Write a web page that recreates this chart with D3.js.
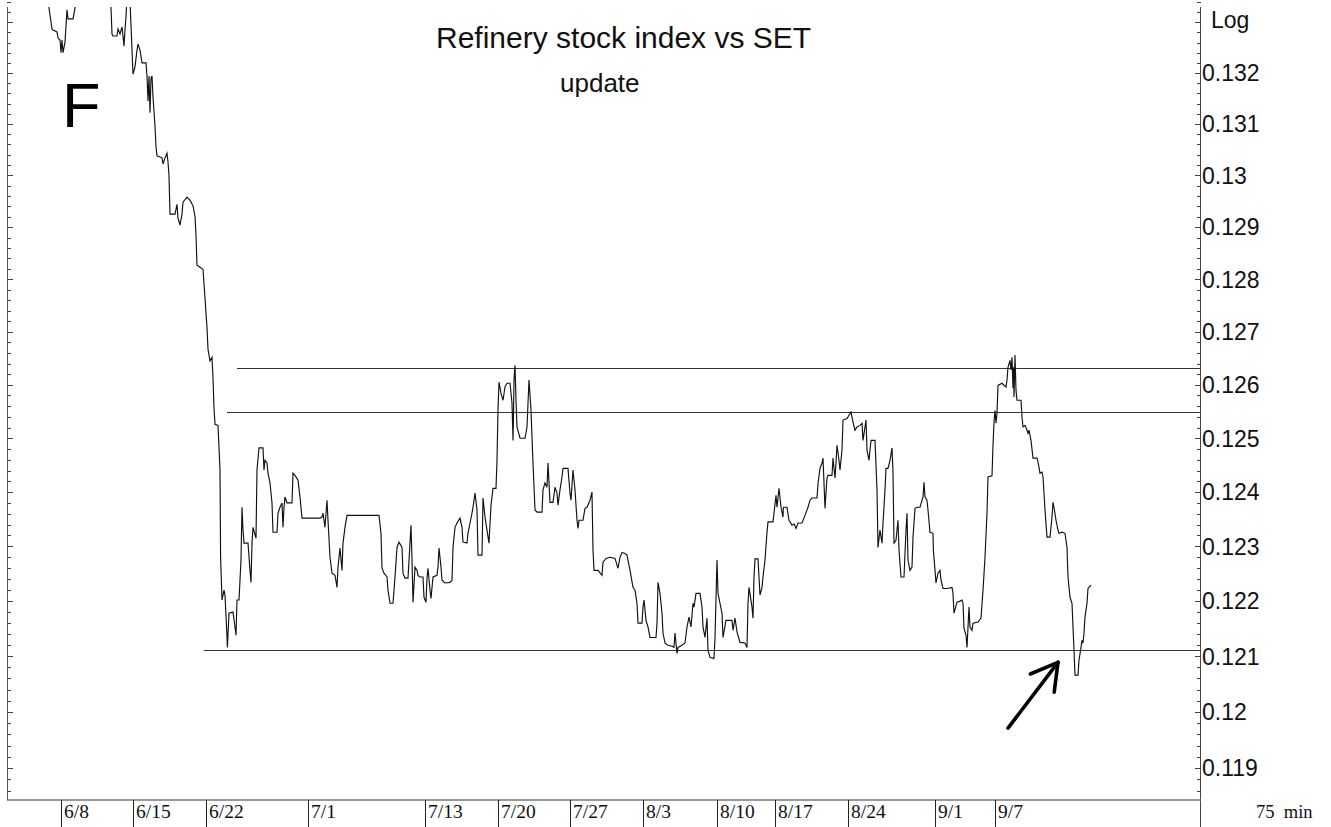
<!DOCTYPE html>
<html><head><meta charset="utf-8">
<script src="https://cdn.jsdelivr.net/npm/d3@7"></script>
<style>html,body{margin:0;padding:0;background:#fff;overflow:hidden}svg{display:block}</style>
</head><body>
<svg id="c" width="1331" height="827"></svg>
<script>
// ---- data (bar index, price ratio) ----
const series = [[9.5,0.1338],[10.5,0.13329],[11.25,0.13287],[11.5,0.13285],[12.5,0.13281],[12.75,0.13269],[13.25,0.13265],[13.5,0.13240],[13.75,0.13265],[14,0.13240],[14.5,0.13261],[15,0.13325],[15.25,0.13307],[16.5,0.13307],[17,0.13329],[18,0.1339],[23,0.1340],[25.5,0.1338],[26,0.13329],[26.25,0.13277],[26.5,0.13273],[27.5,0.13273],[27.75,0.13287],[28.25,0.13277],[28.75,0.13291],[29,0.13273],[29.25,0.13253],[29.5,0.13287],[29.75,0.13311],[30.1,0.1337],[30.6,0.1337],[31,0.13295],[31.25,0.13245],[31.5,0.13198],[32,0.13212],[32.5,0.13245],[32.75,0.13257],[33.25,0.13245],[33.75,0.13220],[34.75,0.13220],[35,0.13194],[35.25,0.13145],[35.5,0.13194],[35.75,0.13122],[36,0.13190],[36.25,0.13194],[36.5,0.13153],[37,0.13096],[37.25,0.13055],[37.5,0.13038],[38.75,0.13034],[39,0.13022],[39.5,0.13034],[40,0.13043],[40.25,0.13026],[40.5,0.12999],[40.75,0.12925],[42,0.12925],[42.5,0.12944],[42.75,0.12917],[43.25,0.12904],[43.75,0.12925],[44,0.12948],[45,0.12958],[45.75,0.12952],[46.5,0.12941],[47,0.12921],[47.25,0.12885],[47.5,0.12827],[48.25,0.12823],[49,0.12819],[49.5,0.12764],[50,0.12707],[50.25,0.12667],[50.75,0.12645],[51.25,0.12652],[51.5,0.12613],[51.75,0.12556],[52,0.12526],[52.75,0.12524],[53.25,0.12441],[53.4,0.12280],[53.75,0.12202],[54.25,0.12220],[54.5,0.12211],[55,0.12135],[55.1,0.12116],[55.5,0.12178],[56.5,0.12180],[57,0.12153],[57.25,0.12138],[57.5,0.12202],[58,0.12202],[58.5,0.12275],[58.75,0.12372],[59,0.12330],[59.25,0.12306],[60.25,0.12306],[60.75,0.12256],[61,0.12234],[61.25,0.12306],[61.5,0.12335],[62.25,0.12315],[62.5,0.12441],[63,0.12482],[64,0.12482],[64.25,0.12441],[64.5,0.12459],[65,0.12454],[65.25,0.12435],[65.75,0.12417],[66.25,0.12380],[66.5,0.12326],[67.5,0.12326],[67.75,0.12361],[68.25,0.12372],[68.75,0.12380],[69,0.12335],[69.25,0.12372],[69.5,0.12391],[70,0.12380],[71.25,0.12380],[71.5,0.12435],[72,0.12431],[72.75,0.12422],[73.25,0.12391],[73.75,0.12352],[78.25,0.12352],[78.75,0.12354],[79,0.12361],[79.5,0.12335],[80,0.12385],[80.25,0.12348],[80.75,0.12280],[81.25,0.12251],[82,0.12247],[82.5,0.12225],[82.75,0.12262],[83.25,0.12297],[83.75,0.12256],[84,0.12306],[84.5,0.12335],[85,0.12357],[93,0.12357],[93.5,0.12324],[93.75,0.12260],[94.25,0.12251],[95,0.12244],[95.25,0.12220],[95.75,0.12196],[96.5,0.12196],[97,0.12244],[97.5,0.12298],[98,0.12308],[98.75,0.12298],[99,0.12251],[99.5,0.12242],[100.25,0.12242],[100.75,0.12306],[101,0.12339],[101.25,0.12275],[101.5,0.12198],[102,0.12262],[102.5,0.12256],[102.75,0.12247],[103.25,0.12244],[104,0.12244],[104.25,0.12207],[104.75,0.12198],[105,0.12242],[105.25,0.12260],[105.75,0.12220],[106,0.12205],[106.5,0.12244],[107.5,0.12247],[107.75,0.12262],[108,0.12297],[108.5,0.12262],[108.75,0.12238],[109.5,0.12233],[110.75,0.12234],[111.25,0.12238],[111.5,0.12298],[112,0.12335],[112.5,0.12343],[113.25,0.12352],[113.75,0.12335],[114,0.12308],[115,0.12306],[115.25,0.12324],[115.75,0.12343],[116.25,0.12361],[116.5,0.12372],[117,0.12398],[117.5,0.12367],[117.75,0.12284],[118.75,0.12284],[119,0.12389],[119.5,0.12354],[120,0.12330],[120.5,0.12306],[121,0.12376],[121.5,0.12407],[122.25,0.12407],[122.5,0.12459],[122.75,0.12553],[123,0.12605],[123.5,0.12584],[124,0.12571],[124.5,0.12596],[125,0.12603],[125.75,0.12603],[126.25,0.12566],[126.5,0.12496],[126.6,0.12534],[126.75,0.12609],[127,0.12637],[127.25,0.12571],[127.5,0.12521],[128.25,0.12500],[129.5,0.12500],[130,0.12521],[130.5,0.12609],[131,0.12553],[131.25,0.12502],[131.5,0.12454],[132,0.12367],[132.5,0.12363],[133.75,0.12363],[134,0.12404],[134.5,0.12417],[135,0.12409],[135.25,0.12454],[135.75,0.12381],[136.5,0.12381],[137,0.12409],[137.5,0.12398],[137.75,0.12376],[138.25,0.12404],[138.75,0.12428],[139,0.12444],[140.25,0.12444],[140.75,0.12398],[141,0.12385],[141.5,0.12441],[142,0.12404],[142.5,0.12348],[142.75,0.12333],[143,0.12348],[144,0.12348],[144.5,0.12370],[145,0.12372],[145.75,0.12385],[146.25,0.12400],[146.5,0.12293],[146.75,0.12256],[147.75,0.12256],[148.75,0.12247],[149,0.12271],[149.75,0.12278],[150.75,0.12280],[152,0.12278],[152.75,0.12260],[153.25,0.12280],[153.75,0.12289],[154.5,0.12287],[155,0.12284],[155.75,0.12256],[156.5,0.12225],[157,0.12220],[157.5,0.12196],[157.75,0.12160],[158.75,0.12160],[159,0.12189],[159.25,0.12202],[159.75,0.12165],[160.25,0.12153],[160.75,0.12134],[162.25,0.12134],[162.5,0.12160],[162.75,0.12234],[163.25,0.12214],[163.75,0.12178],[164,0.12142],[164.5,0.12124],[165.25,0.12120],[166.25,0.12118],[166.75,0.12116],[167,0.12142],[167.5,0.12105],[167.75,0.12116],[168.75,0.12120],[169.5,0.12124],[170,0.12153],[170.5,0.12171],[171,0.12153],[171.5,0.12196],[171.75,0.12189],[172.25,0.12214],[173.25,0.12214],[173.75,0.12189],[174,0.12153],[174.5,0.12134],[175,0.12169],[175.25,0.12111],[175.75,0.12098],[176.75,0.12096],[177,0.12134],[177.5,0.12275],[177.75,0.12214],[178.25,0.12196],[178.75,0.12178],[179,0.12134],[179.75,0.12165],[181.25,0.12165],[181.5,0.12147],[182,0.12169],[182.5,0.12144],[183.25,0.12125],[184.5,0.12124],[185,0.12116],[185.25,0.12196],[185.5,0.12225],[186.25,0.12189],[186.5,0.12169],[186.75,0.12244],[187,0.12277],[187.75,0.12277],[188.25,0.12211],[188.75,0.12225],[189,0.12244],[189.5,0.12275],[190,0.12326],[190.25,0.12345],[191.5,0.12345],[191.75,0.12361],[192.25,0.12394],[192.5,0.12372],[193,0.12407],[193.5,0.12372],[194,0.12354],[194.1,0.12372],[195,0.12372],[195.5,0.12348],[196.25,0.12339],[196.75,0.12341],[197.25,0.12333],[197.75,0.12343],[198.75,0.12343],[199.5,0.12357],[200.25,0.12372],[200.75,0.12385],[201.25,0.12389],[202.5,0.12389],[202.75,0.12416],[203.25,0.12444],[203.75,0.12454],[204,0.12463],[204.5,0.12370],[205,0.12426],[205.25,0.12431],[206.25,0.12431],[206.5,0.12463],[207,0.12426],[207.25,0.12454],[207.5,0.12487],[208,0.12459],[208.25,0.12441],[208.75,0.12478],[209,0.12534],[210,0.12537],[210.5,0.12543],[211,0.12549],[211.5,0.12530],[212,0.12515],[212.5,0.12521],[213.25,0.12524],[213.75,0.12528],[214,0.12496],[214.5,0.12521],[214.75,0.12534],[215,0.12478],[215.5,0.12459],[216,0.12496],[217,0.12496],[217.5,0.12404],[217.75,0.12298],[218.25,0.12330],[218.75,0.12306],[219,0.12343],[219.5,0.12404],[219.75,0.12444],[220.25,0.12444],[220.75,0.12459],[221.25,0.12482],[221.5,0.12437],[221.75,0.12306],[222.25,0.12311],[222.5,0.12330],[222.75,0.12348],[223,0.12293],[223.5,0.12244],[224.25,0.12244],[224.75,0.12330],[225,0.12361],[225.25,0.12275],[225.75,0.12256],[226.25,0.12262],[226.5,0.12317],[227,0.12370],[227.5,0.12372],[228.25,0.12372],[229,0.12391],[229.25,0.12418],[229.5,0.12391],[230,0.12385],[230.25,0.12367],[230.75,0.12326],[231.5,0.12324],[231.6,0.12293],[232,0.12256],[232.25,0.12233],[232.75,0.12251],[233.25,0.12256],[233.5,0.12238],[234,0.12223],[235,0.12223],[236.25,0.12225],[236.5,0.12214],[236.75,0.12178],[237.5,0.12198],[238.25,0.12200],[238.75,0.12202],[239,0.12196],[239.25,0.12151],[239.75,0.12138],[240,0.12116],[240.5,0.12189],[240.75,0.12153],[241.25,0.12147],[241.5,0.12160],[242.75,0.12162],[243.5,0.12169],[244,0.12220],[244.5,0.12280],[245,0.12361],[245.25,0.12428],[246.25,0.12430],[246.5,0.12487],[246.75,0.12530],[247,0.12552],[247.25,0.12528],[247.5,0.12547],[247.75,0.12599],[248.75,0.12603],[249.75,0.12596],[250,0.12609],[250.25,0.12633],[250.75,0.12646],[251,0.12628],[251.25,0.12652],[251.5,0.12594],[251.6,0.12633],[251.75,0.12577],[252,0.12656],[252.25,0.12590],[252.5,0.12571],[253.5,0.12571],[253.75,0.12540],[254,0.12521],[254.5,0.12524],[255,0.12515],[255.25,0.12509],[255.5,0.12515],[256,0.12496],[256.5,0.12463],[257.5,0.12463],[257.75,0.12456],[258.25,0.12435],[258.75,0.12437],[259,0.12428],[259.25,0.12398],[259.5,0.12367],[260,0.12317],[260.75,0.12317],[261.25,0.12354],[261.5,0.12381],[261.75,0.12372],[262.25,0.12348],[262.75,0.12330],[263,0.12324],[263.75,0.12326],[264.5,0.12324],[265,0.12298],[265.25,0.12244],[265.75,0.12207],[266.25,0.12196],[266.5,0.12153],[266.75,0.12111],[267,0.12066],[267.75,0.12066],[268,0.12093],[268.5,0.12116],[268.75,0.12129],[269,0.12124],[269.25,0.12142],[269.5,0.12171],[270,0.12196],[270.25,0.12223],[271,0.12229]];

const dateTickIndex  = [13.5, 31.5, 49.75, 75.25, 104.4, 122.75, 140.75, 159.1, 177.5, 192, 210.25, 232, 246.9];
const dateTickLabels = ["6/8","6/15","6/22","7/1","7/13","7/20","7/27","8/3","8/10","8/17","8/24","9/1","9/7"];
const yTickValues = [0.119,0.12,0.121,0.122,0.123,0.124,0.125,0.126,0.127,0.128,0.129,0.13,0.131,0.132];
const yTickLabels = ["0.119","0.12","0.121","0.122","0.123","0.124","0.125","0.126","0.127","0.128","0.129","0.13","0.131","0.132"];
const levelValues = [0.12631, 0.12549, 0.12111];
const levelStartIndex = [57.5, 55, 49.25];
const arrowFrom = [250.25, 0.11971];
const arrowTo   = [262.75, 0.12089];
const titleText = "Refinery stock index vs SET";
const subtitleText = "update";
const panelLetter = "F";
const scaleLabel = "Log";
const periodLabel = "75  min";

// ---- layout ----
const L = 7, R = 1200, T = 7, B = 800, H = 827;
const svg = d3.select("#c");
const x = d3.scaleLinear().domain([0, 298.25]).range([L, R]);
const y = d3.scaleLog().domain([0.119, 0.132]).range([768, 73]);

svg.append("defs").append("clipPath").attr("id","plot")
  .append("rect").attr("x",L).attr("y",T).attr("width",R-L).attr("height",B-T);

const sans = "'Liberation Sans', Arial, sans-serif";
const serif = "'Liberation Serif', 'Times New Roman', serif";

// axes lines
svg.append("line").attr("x1",L+0.5).attr("x2",L+0.5).attr("y1",T).attr("y2",B)
  .attr("stroke","#555").attr("stroke-width",1);
svg.append("line").attr("x1",R+0.5).attr("x2",R+0.5).attr("y1",T).attr("y2",H)
  .attr("stroke","#444").attr("stroke-width",1);
svg.append("line").attr("x1",L).attr("x2",R+1).attr("y1",B).attr("y2",B)
  .attr("stroke","#777").attr("stroke-width",1.6);

// y ticks (minor every 0.0002, major every 0.001)
const minor = d3.range(593, 668).map(k => k / 5000);
const gT = svg.append("g").attr("stroke","#444").attr("stroke-width",1);
minor.forEach(v => {
  const yy = Math.round(y(v)) + 0.5;
  const major = Math.abs(v * 1000 - Math.round(v * 1000)) < 1e-6;
  const len = major ? 6 : 4;
  gT.append("line").attr("x1",L).attr("x2",L+len).attr("y1",yy).attr("y2",yy);
  gT.append("line").attr("x1",R-len+1).attr("x2",R+1).attr("y1",yy).attr("y2",yy);
});

// y labels on right
svg.append("g").selectAll("text").data(yTickValues).join("text")
  .attr("x", R + 2).attr("y", d => y(d)).attr("dy","0.36em")
  .attr("font-family", sans).attr("font-size", 23).attr("fill","#111")
  .text((d,i) => yTickLabels[i]);
svg.append("text").attr("x", R + 11).attr("y", 28)
  .attr("font-family", sans).attr("font-size", 23).attr("fill","#111").text(scaleLabel);

// date ticks
const gD = svg.append("g");
dateTickIndex.forEach((d,i) => {
  const xx = Math.round(x(d)) + 0.5;
  gD.append("line").attr("x1",xx).attr("x2",xx).attr("y1",B).attr("y2",H)
    .attr("stroke","#222").attr("stroke-width",1);
  gD.append("text").attr("x", xx + 2.5).attr("y", 818)
    .attr("font-family", serif).attr("font-size", 19.5).attr("fill","#111")
    .text(dateTickLabels[i]);
});
svg.append("text").attr("x", 1256).attr("y", 818).attr("xml:space","preserve")
  .style("white-space","pre")
  .attr("font-family", serif).attr("font-size", 18.5).attr("fill","#111").text(periodLabel);

// level lines
levelValues.forEach((v,i) => {
  const yy = Math.round(y(v)) + 0.5;
  svg.append("line").attr("x1", x(levelStartIndex[i])).attr("x2", R).attr("y1", yy).attr("y2", yy)
    .attr("stroke","#333").attr("stroke-width",1);
});

// price line
const line = d3.line().x(d => x(d[0])).y(d => y(d[1]));
svg.append("path").datum(series).attr("clip-path","url(#plot)")
  .attr("d", line).attr("fill","none").attr("stroke","#111")
  .attr("stroke-width",1.15).attr("stroke-linejoin","miter");

// titles
svg.append("text").attr("x", 436).attr("y", 48)
  .attr("font-family", sans).attr("font-size", 30).attr("fill","#111").text(titleText);
svg.append("text").attr("x", 560).attr("y", 92)
  .attr("font-family", sans).attr("font-size", 26).attr("fill","#111").text(subtitleText);
svg.append("text").attr("x", 62).attr("y", 127)
  .attr("font-family", sans).attr("font-size", 63).attr("fill","#000").text(panelLetter);

// arrow annotation
const ax1 = x(arrowFrom[0]), ay1 = y(arrowFrom[1]);
const ax2 = x(arrowTo[0]), ay2 = y(arrowTo[1]);
const ang = Math.atan2(ay1 - ay2, ax1 - ax2);
const hl = 30, ha = Math.PI / 6;
const ga = svg.append("g").attr("stroke","#000").attr("stroke-width",3.6)
  .attr("stroke-linecap","round").attr("fill","none");
ga.append("line").attr("x1",ax1).attr("y1",ay1).attr("x2",ax2).attr("y2",ay2);
[ang + ha, ang - ha].forEach(a => {
  ga.append("line").attr("x1",ax2).attr("y1",ay2)
    .attr("x2", ax2 + hl * Math.cos(a)).attr("y2", ay2 + hl * Math.sin(a));
});
</script>
</body></html>
